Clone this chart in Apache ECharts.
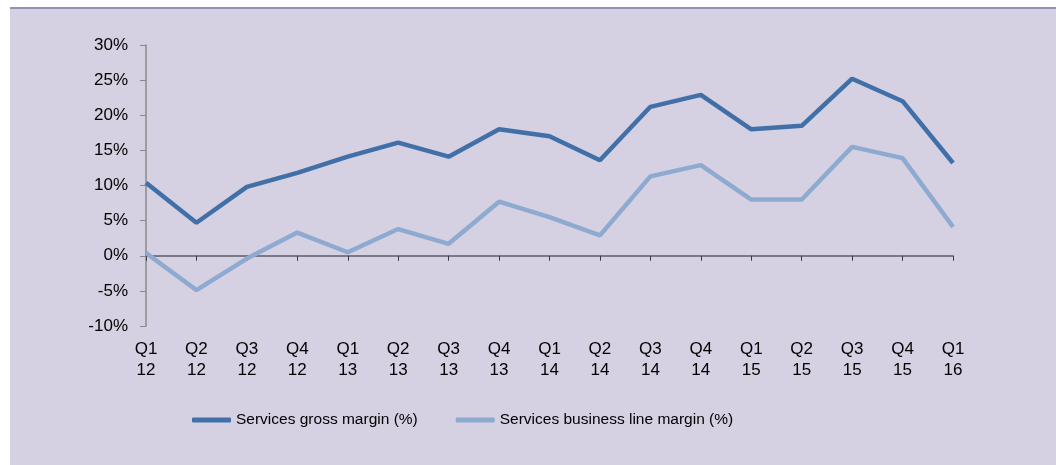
<!DOCTYPE html>
<html>
<head>
<meta charset="utf-8">
<script src="https://cdn.jsdelivr.net/npm/echarts@6/dist/echarts.min.js"></script>
<style>
html,body{margin:0;padding:0;background:#fff;}
#chart{width:1056px;height:465px;}
</style>
</head>
<body>
<div id="chart"></div>
<script>
const categories = ['Q1\n12','Q2\n12','Q3\n12','Q4\n12','Q1\n13','Q2\n13','Q3\n13','Q4\n13','Q1\n14','Q2\n14','Q3\n14','Q4\n14','Q1\n15','Q2\n15','Q3\n15','Q4\n15','Q1\n16'];
const grossMargin = [10.4, 4.7, 9.8, 11.8, 14.1, 16.1, 14.1, 18.0, 17.0, 13.6, 21.2, 22.9, 18.0, 18.5, 25.2, 22.0, 13.2];
const businessLineMargin = [0.4, -4.9, -0.4, 3.3, 0.5, 3.8, 1.7, 7.7, 5.5, 2.9, 11.3, 12.9, 8.0, 8.0, 15.5, 13.9, 4.1];
const seriesNames = ['Services gross margin (%)', 'Services business line margin (%)'];
const yMin = -10, yMax = 30, yStep = 5;

const font = "'Liberation Sans', Arial, sans-serif";

const chart = echarts.init(document.getElementById('chart'), null, {renderer:'canvas'});
chart.setOption({
  backgroundColor: '#ffffff',
  animation: false,
  graphic: [
    {type:'rect', z:-10, shape:{x:10, y:8, width:1046, height:457}, style:{fill:'#d5d1e2'}},
    {type:'rect', z:-9, shape:{x:10, y:7, width:1046, height:2}, style:{fill:'#9890b4'}}
  ],
  grid: {left:146, right:103, top:45, bottom:139},
  legend: {
    left: 192, top: 412, padding: 0,
    itemWidth: 39, itemHeight: 5, itemGap: 38,
    icon: 'roundRect',
    textStyle: {fontFamily: font, fontSize: 15.5, color:'#000'},
    data: seriesNames
  },
  xAxis: [
    {
      type:'category', data: categories, boundaryGap:false,
      axisLine:{onZero:true, lineStyle:{color:'#5e5c68', width:1.5}},
      axisTick:{show:true, length:5, lineStyle:{color:'#3a3a44'}},
      axisLabel:{show:false}
    },
    {
      type:'category', data: categories, boundaryGap:false, position:'bottom',
      axisLine:{show:false, onZero:false},
      axisTick:{show:false},
      axisLabel:{show:true, interval:0, margin:13, fontFamily:font, fontSize:17, lineHeight:21, color:'#000'}
    }
  ],
  yAxis: {
    type:'value', min:yMin, max:yMax, interval:yStep,
    splitLine:{show:false},
    axisLine:{show:true, lineStyle:{color:'#888888', width:1.5}},
    axisTick:{show:true, length:6, lineStyle:{color:'#888888'}},
    axisLabel:{margin:18, fontFamily:font, fontSize:17, color:'#000', formatter: v => v + '%'}
  },
  series: [
    {
      name: seriesNames[0], type:'line', data: grossMargin, xAxisIndex:0,
      symbol:'none', lineStyle:{color:'#4170a8', width:4.5}, itemStyle:{color:'#4170a8'}, z:3
    },
    {
      name: seriesNames[1], type:'line', data: businessLineMargin, xAxisIndex:0,
      symbol:'none', lineStyle:{color:'#8eaad0', width:4.5}, itemStyle:{color:'#8eaad0'}, z:2
    }
  ]
});
</script>
</body>
</html>
